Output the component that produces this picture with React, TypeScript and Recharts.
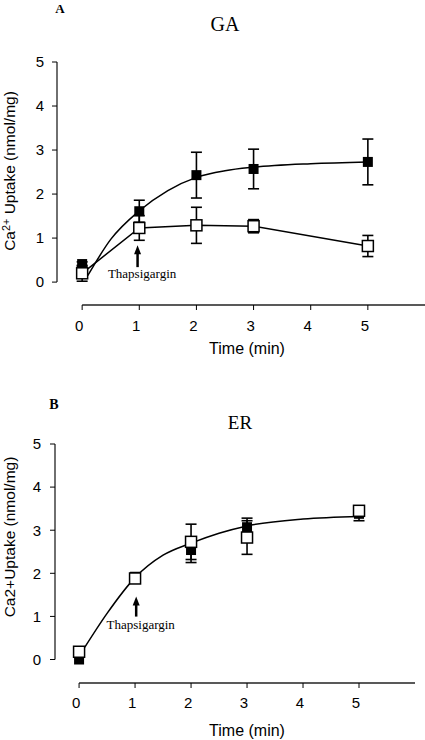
import React from 'react'
import {
  ComposedChart,
  Line,
  Scatter,
  ErrorBar,
  XAxis,
  YAxis,
  ReferenceLine,
  ReferenceDot,
} from 'recharts'

// sampling times (min)
const times = [0, 1, 2, 3, 5]
const xTicks = [0, 1, 2, 3, 4, 5]
const yTicks = [0, 1, 2, 3, 4, 5]

// panel A - GA
const gaControl = [0.41, 1.61, 2.43, 2.57, 2.73]
const gaControlErr = [0.05, 0.25, 0.52, 0.45, 0.52]
const gaThaps = [0.2, 1.23, 1.29, 1.27, 0.82]
const gaThapsErr = [0.18, 0.28, 0.41, 0.15, 0.24]

// fitted curve
const fitTimes = [0.1, 0.5, 1, 1.5, 2, 2.5, 3, 4, 5]
const gaFit = [0.15, 0.97, 1.62, 2.08, 2.38, 2.53, 2.61, 2.69, 2.73]

// panel B - ER
const erControl = [0, 1.92, 2.54, 3.07, 3.38]
const erControlErr = [0, 0.05, 0.29, 0.21, 0.16]
const erThaps = [0.18, 1.88, 2.73, 2.83, 3.45]
const erThapsErr = [0.05, 0.05, 0.41, 0.39, 0.08]
const erFit = [0.28, 1.07, 1.9, 2.42, 2.7, 2.93, 3.1, 3.26, 3.32]

// where the thapsigargin arrow tip sits (data coords)
const gaArrow = { x: 0.97, y: 0.84 }
const erArrow = { x: 1.02, y: 1.46 }

const rows = (xs: number[], ys: number[], errs?: number[]) =>
  xs.map((x, i) => ({ x, y: ys[i], err: errs ? errs[i] : 0 }))

const sans = '"Liberation Sans", Arial, sans-serif'
const serif = '"Liberation Serif", "Times New Roman", serif'

const FilledSquare = (p: any) => (
  <rect x={p.cx - 5} y={p.cy - 5} width={10} height={10} fill="#000" />
)

const OpenSquare = (p: any) => (
  <rect
    x={p.cx - 5.5}
    y={p.cy - 5.5}
    width={11}
    height={11}
    fill="#fff"
    stroke="#000"
    strokeWidth={1.5}
  />
)

const arrowNote = (len: number, textDy: number) => (p: any) => (
  <g>
    <line x1={p.cx} y1={p.cy + 6} x2={p.cx} y2={p.cy + len} stroke="#000" strokeWidth={2.5} />
    <path d={`M${p.cx - 3.5},${p.cy + 9} L${p.cx},${p.cy} L${p.cx + 3.5},${p.cy + 9} Z`} fill="#000" />
    <text x={p.cx + 4.5} y={p.cy + textDy} textAnchor="middle" fontFamily={serif} fontSize={13} fill="#000">
      Thapsigargin
    </text>
  </g>
)

function Panel({
  control,
  controlErr,
  thaps,
  thapsErr,
  fit,
  arrow,
  top,
  right,
  xAxisHeight,
  xMin,
  yMin,
  yWidth,
  xTickMargin,
  yTickMargin,
  connectThaps,
  arrowLen,
  textDy,
}: any) {
  const tickStyle = { fill: '#000', fontSize: 15, fontFamily: sans }
  return (
    <ComposedChart
      width={425}
      height={370}
      margin={{ top, right, bottom: 0, left: 0 }}
    >
      <XAxis
        dataKey="x"
        type="number"
        domain={[xMin, 6]}
        ticks={xTicks}
        allowDataOverflow
        axisLine={false}
        tickSize={5}
        tickMargin={xTickMargin}
        stroke="#000"
        height={xAxisHeight}
        tick={{ ...tickStyle, dx: -3 }}
      />
      <YAxis
        type="number"
        domain={[yMin, 5]}
        ticks={yTicks}
        allowDataOverflow
        axisLine={false}
        tickSize={5}
        tickMargin={yTickMargin}
        stroke="#000"
        width={yWidth}
        tick={tickStyle}
      />
      <ReferenceLine
        segment={[{ x: 0, y: yMin }, { x: 6, y: yMin }]}
        stroke="#222"
        strokeWidth={1.3}
        ifOverflow="visible"
      />
      <ReferenceLine
        segment={[{ x: xMin, y: 0 }, { x: xMin, y: 5 }]}
        stroke="#222"
        strokeWidth={1.3}
        ifOverflow="visible"
      />
      <Line
        data={rows(fitTimes, fit)}
        dataKey="y"
        type="monotone"
        stroke="#000"
        strokeWidth={1.5}
        dot={false}
        isAnimationActive={false}
      />
      {connectThaps && (
        <Line
          data={rows(times, thaps)}
          dataKey="y"
          type="linear"
          stroke="#000"
          strokeWidth={1.5}
          dot={false}
          isAnimationActive={false}
        />
      )}
      <Scatter
        data={rows(times, control, controlErr)}
        dataKey="y"
        shape={FilledSquare}
        isAnimationActive={false}
      >
        <ErrorBar dataKey="err" direction="y" width={5.5} stroke="#000" strokeWidth={1.6} />
      </Scatter>
      <Scatter
        data={rows(times, thaps, thapsErr)}
        dataKey="y"
        shape={OpenSquare}
        isAnimationActive={false}
      >
        <ErrorBar dataKey="err" direction="y" width={5.5} stroke="#000" strokeWidth={1.6} />
      </Scatter>
      <ReferenceDot
        x={arrow.x}
        y={arrow.y}
        r={0}
        shape={arrowNote(arrowLen, textDy)}
      />
    </ComposedChart>
  )
}

const abs = (left: number, top: number, style: any = {}) => ({
  position: 'absolute' as const,
  left,
  top,
  transform: 'translate(-50%, -50%)',
  whiteSpace: 'nowrap' as const,
  lineHeight: 1,
  color: '#000',
  ...style,
})

export default function App() {
  return (
    <div style={{ position: 'absolute', left: 0, top: 0, width: 425, height: 740, background: '#fff' }}>
      <div style={{ position: 'absolute', left: 0, top: 0 }}>
        <Panel
          control={gaControl}
          controlErr={gaControlErr}
          thaps={gaThaps}
          thapsErr={gaThapsErr}
          fit={gaFit}
          arrow={gaArrow}
          top={62}
          right={0}
          xAxisHeight={65}
          xMin={-0.44}
          yMin={-0.52}
          yWidth={57}
          xTickMargin={10}
          yTickMargin={8}
          connectThaps
          arrowLen={22}
          textDy={33}
        />
      </div>
      <div style={{ position: 'absolute', left: 0, top: 370 }}>
        <Panel
          control={erControl}
          controlErr={erControlErr}
          thaps={erThaps}
          thapsErr={erThapsErr}
          fit={erFit}
          arrow={erArrow}
          top={74}
          right={10}
          xAxisHeight={57}
          xMin={-0.43}
          yMin={-0.545}
          yWidth={55}
          xTickMargin={9}
          yTickMargin={9}
          connectThaps={false}
          arrowLen={20}
          textDy={32.5}
        />
      </div>

      <div style={abs(60, 8, { fontFamily: serif, fontWeight: 'bold', fontSize: 13 })}>A</div>
      <div style={abs(225, 24, { fontFamily: serif, fontSize: 20 })}>GA</div>
      <div style={abs(10, 171, { fontFamily: sans, fontSize: 15.5, transform: 'translate(-50%, -50%) rotate(-90deg)' })}>
        Ca<sup style={{ fontSize: '0.7em', verticalAlign: '0.45em', lineHeight: 0 }}>2+</sup> Uptake (nmol/mg)
      </div>
      <div style={abs(247, 349, { fontFamily: sans, fontSize: 16 })}>Time (min)</div>

      <div style={abs(54, 405, { fontFamily: serif, fontWeight: 'bold', fontSize: 14 })}>B</div>
      <div style={abs(240, 422, { fontFamily: serif, fontSize: 19 })}>ER</div>
      <div style={abs(10, 537, { fontFamily: sans, fontSize: 15.5, transform: 'translate(-50%, -50%) rotate(-90deg)' })}>
        Ca2+Uptake (nmol/mg)
      </div>
      <div style={abs(247, 731, { fontFamily: sans, fontSize: 16 })}>Time (min)</div>
    </div>
  )
}
